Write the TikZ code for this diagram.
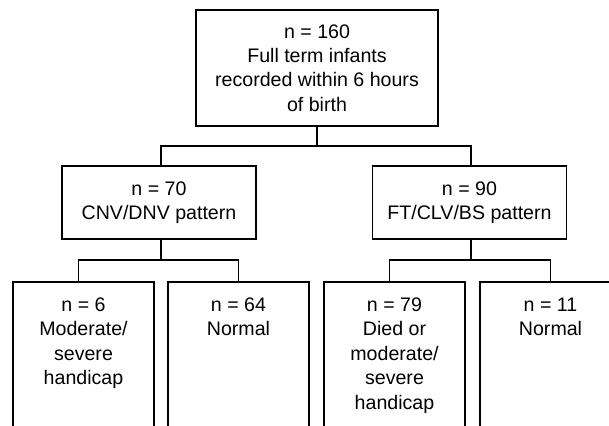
\documentclass[tikz,border=0pt]{standalone}
\usepackage{fontspec}
\setmainfont{Liberation Sans}

\begin{document}
\begin{tikzpicture}[x=0.5pt,y=-0.5pt,
  box/.style={draw,line width=0.8pt,align=center,font=\fontsize{9.8}{12.2}\selectfont},
  leaf/.style={box,anchor=north,minimum width=70.5pt,inner ysep=8pt,text depth=120pt},
  link/.style={line width=0.8pt}]
\useasboundingbox (0,0) rectangle (609,425);
\clip (0,0) rectangle (609,425);
% top of the tree
\node[box,minimum width=121pt,minimum height=58pt] (all) at (317,68)
  {n = 160\\Full term infants\\recorded within 6 hours\\of birth};
% patterns
\node[box,minimum width=97pt,minimum height=36.5pt] (cnv) at (159,202.5) {n = 70\\CNV/DNV pattern};
\node[box,minimum width=97pt,minimum height=36.5pt] (ft) at (469.5,202.5) {n = 90\\FT/CLV/BS pattern};
% outcomes
\node[leaf] (mod) at (83.5,281) {n = 6\\Moderate/\\severe\\handicap};
\node[leaf] (nor1) at (238.5,281) {n = 64\\Normal};
\node[leaf] (died) at (394.5,281) {n = 79\\Died or\\moderate/\\severe\\handicap};
\node[leaf] (nor2) at (550.5,281) {n = 11\\Normal};
% links
\draw[link] (all.south) -- ++(0,19) coordinate (s0);
\draw[link] (s0) -| ([xshift=1pt]cnv.north);
\draw[link] (s0) -| ([xshift=0.75pt]ft.north);
\draw[link] ([xshift=1pt]cnv.south) -- ++(0,20) coordinate (s1);
\draw[link] (s1) -| ([xshift=-2.5pt]mod.north);
\draw[link] (s1) -| (nor1.north);
\draw[link] ([xshift=0.75pt]ft.south) -- ++(0,20) coordinate (s2);
\draw[link] (s2) -| ([xshift=-2.5pt]died.north);
\draw[link] (s2) -| (nor2.north);
\end{tikzpicture}
\end{document}
